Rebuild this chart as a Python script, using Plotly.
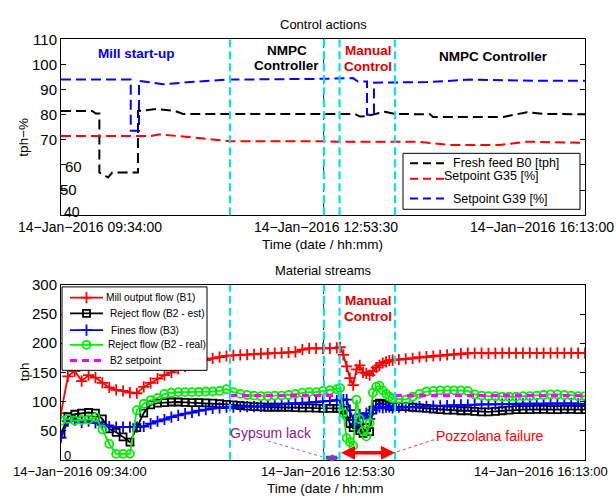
import numpy as np
import plotly.graph_objects as go

W, H = 616, 497
FONT = "Liberation Sans, Arial, sans-serif"

# ---------------- Top panel data (minutes after 09:34:00) ----------------
b0_t = [0, 23.6, 26.6, 29.2, 29.2, 35.8, 39, 58.6, 58.6, 73.1, 86.8, 92.9, 223.9, 227.7, 233,
        246.7, 254.3, 281, 283.3, 336.6, 354.8, 368.5, 399]
b0_v = [81.5, 81.5, 80.5, 80.5, 57, 55, 57, 57, 81.5, 82.3, 81.5, 80.3, 80.3, 79.3, 79.5,
        81.2, 80.3, 80.2, 79.1, 79.1, 81, 80.3, 80.2]
g35_t = [0, 67.8, 75.4, 86.8, 118.8, 128.7, 197.2, 212.4, 273.4, 296.2, 334.3, 354.8, 399]
g35_v = [71.5, 71.5, 72.2, 71.6, 70, 69.5, 69.5, 69.3, 69.2, 68, 68, 69.3, 68.8]
g39_t = [0, 53.1, 53.1, 59.4, 59.4, 77.7, 98.2, 126.4, 197.2, 212.4, 222.3, 226.1, 233, 233,
         238.3, 238.3, 278.7, 311.4, 364.7, 399]
g39_v = [94, 94, 73.6, 73.6, 93.5, 92.2, 93, 94, 94.3, 94.6, 94.6, 93.2, 93.2, 80, 80, 92.8,
         93, 94, 93.5, 93.5]
top_names = ["Fresh feed B0 [tph]", "Setpoint G35 [%]", "Setpoint G39 [%]"]

# ---------------- Bottom panel data ----------------
# sampling instants (minutes): regular, denser during manual control
t_s = np.concatenate([np.arange(0, 210.01, 5.25),
                      np.arange(212.5, 252.51, 2.5),
                      np.arange(257.25, 399.01, 5.25)])

b1 = [80, 143, 152, 135, 145, 141, 132, 124, 120, 118, 115, 114, 125, 132, 139, 145, 150, 156,
      160, 164, 168, 171, 174, 176, 178, 179, 180, 180.5, 181, 182, 182, 183, 183.5, 184, 185,
      189, 191, 191, 191, 191, 192,
      193, 180, 160, 140, 128, 155, 162, 150, 148, 145, 152, 158, 162, 166, 168, 170, 171,
      172, 173, 174, 176, 177, 178, 179, 180, 181, 182, 183, 183, 183, 182.5, 183, 183, 183.5,
      183, 183, 183.5, 183, 183, 183, 183.5, 183, 183, 183, 183]
b2_est = [44, 74, 78, 80, 81, 80, 70, 53, 47, 39, 30, 55, 80, 94, 97, 98, 99, 99, 98.5, 98,
          98, 97.5, 97, 96, 95, 94, 93, 92, 91, 90.5, 90, 90, 90, 90, 89.5, 89, 89, 88.5, 88,
          88, 88,
          88, 85, 78, 62, 55, 60, 50, 45, 55, 48, 85, 95, 97, 96, 94, 92, 91,
          91, 91, 90, 89, 88, 87, 86, 85, 85, 84, 84, 83, 82, 82, 83, 84, 85, 86, 86, 86,
          86.5, 86.5, 86, 86, 86.5, 86.5, 86, 86]
b3 = [38, 66, 68, 64, 66, 63, 60, 57, 56, 56, 56, 56, 57, 62, 66, 69, 73, 76, 79, 81, 84, 86,
      88, 89, 90, 90, 91, 91, 91, 91.5, 93, 94, 95, 96, 96.5, 97, 98, 99, 100, 101, 102,
      103, 103, 103, 85, 68, 60, 78, 72, 80, 70, 85, 88, 90, 89, 90, 90, 89,
      90, 90, 90.5, 91, 91.5, 92, 92.5, 93, 93.5, 94, 94, 94.5, 95, 95, 95, 95.5, 95.5, 96,
      96, 96, 96, 96, 96.5, 96.5, 96.5, 96.5, 96, 95]
b2_real = [67, 70, 67, 68, 69, 73, 52, 27, 10, 10, 10, 85, 96, 102, 106, 113, 115, 116, 116,
           116, 116.5, 117, 117, 118, 121, 116, 113, 111, 110, 109, 109, 110, 110, 111, 113,
           115, 116, 116, 118, 119, 121,
           123, 80, 37, 30, 24, 103, 70, 49, 40, 63, 115, 125, 127, 119, 113, 108, 105,
           104, 103, 108, 113, 117, 118, 119, 119, 119, 119, 118, 112, 110, 109, 109, 108,
           108, 108, 109, 109, 110, 111, 112, 112, 111, 110, 109, 109]
sp_t = [128.7, 212.1, None, 254.3, 399]
sp_v = [110, 110, None, 110, 110]
bot_names = ["Mill output flow (B1)", "Reject flow (B2 - est)", "Fines flow (B3)",
             "Reject flow (B2 - real)", "B2 setpoint"]

# phase boundaries (minutes)
cyan_t = [128.7, 200.3, 212.1, 254.3]
gypsum_span = [200.3, 211.7]
pozz_span = [212.1, 254.3]
xtick_vals = [0, 199.5, 399]
xtick_text = ["14\u2212Jan\u22122016 09:34:00", "14\u2212Jan\u22122016 12:53:30",
              "14\u2212Jan\u22122016 16:13:00"]

RED, BLUE, GREEN, MAG, CYAN = "#ff0000", "#0000ff", "#00ee00", "#ff00ff", "#00e5ee"
DASH = "10px,5px"


def px(x):
    return x / W


def py(y):
    return 1 - y / H


fig = go.Figure()

# top traces
for tt, vv, col in ((b0_t, b0_v, "black"), (g35_t, g35_v, RED), (g39_t, g39_v, BLUE)):
    fig.add_trace(go.Scatter(x=tt, y=vv, mode="lines", showlegend=False,
                             line=dict(color=col, width=2, dash=DASH), xaxis="x", yaxis="y"))

# bottom traces
bot_styles = [
    (b1, "#ff0000", "cross-thin", 8),
    (b2_est, "black", "square-open", 7),
    (b3, "#0000ff", "cross-thin", 8),
    (b2_real, GREEN, "circle-open", 8),
]
for vals, col, sym, sz in bot_styles:
    fig.add_trace(go.Scatter(x=t_s, y=vals, mode="lines+markers", showlegend=False,
                             line=dict(color=col, width=1.8),
                             marker=dict(symbol=sym, size=sz, color=col,
                                         line=dict(color=col, width=1.8)),
                             xaxis="x2", yaxis="y2"))
fig.add_trace(go.Scatter(x=sp_t, y=sp_v, mode="lines", showlegend=False,
                         line=dict(color=MAG, width=3, dash="7px,5px"), connectgaps=False,
                         xaxis="x2", yaxis="y2"))

# ---------------- legends (drawn on a pixel overlay axis) ----------------
ann = []


def text(x, y, s, size=13, color="black", bold=False, xanchor="center", angle=0):
    ann.append(dict(x=px(x), y=py(y), xref="paper", yref="paper", text=s, showarrow=False,
                    xanchor=xanchor, yanchor="middle", textangle=angle,
                    font=dict(family=FONT, size=size, color=color,
                              weight="bold" if bold else "normal")))


def box(x0, y0, x1, y1):
    fig.add_trace(go.Scatter(x=[x0, x1, x1, x0, x0], y=[y0, y0, y1, y1, y0], mode="lines",
                             fill="toself", fillcolor="white",
                             line=dict(color="black", width=1), showlegend=False,
                             hoverinfo="skip", xaxis="x3", yaxis="y3"))


box(403, 147, 580, 204)
top_key = [(157, 451, "black", 157), (173, 442, RED, 170), (193, 451, BLUE, 193)]
for (ly, tx, col, ty), name in zip(top_key, top_names):
    fig.add_trace(go.Scatter(x=[410, 446], y=[ly, ly], mode="lines", showlegend=False,
                             line=dict(color=col, width=2, dash="8px,5px"),
                             hoverinfo="skip", xaxis="x3", yaxis="y3"))
    text(tx, ty, name, 12.5, xanchor="left")

box(62, 283, 207, 368)
bot_key = [(294, 104, RED, "cross-thin", 8), (310, 108, "black", "square-open", 7),
           (327, 109, BLUE, "cross-thin", 8), (342, 106, GREEN, "circle-open", 8)]
for (ly, tx, col, sym, sz), name in zip(bot_key, bot_names[:4]):
    fig.add_trace(go.Scatter(x=[70, 103], y=[ly, ly], mode="lines", showlegend=False,
                             line=dict(color=col, width=1.8), hoverinfo="skip",
                             xaxis="x3", yaxis="y3"))
    fig.add_trace(go.Scatter(x=[86.5], y=[ly], mode="markers", showlegend=False,
                             marker=dict(symbol=sym, size=sz, color=col,
                                         line=dict(color=col, width=1.8)),
                             hoverinfo="skip", xaxis="x3", yaxis="y3"))
    text(tx, ly, name, 10.2, xanchor="left")
fig.add_trace(go.Scatter(x=[70, 103], y=[358, 358], mode="lines", showlegend=False,
                         line=dict(color=MAG, width=3, dash="7px,5px"), hoverinfo="skip",
                         xaxis="x3", yaxis="y3"))
text(108, 358, bot_names[4], 10.2, xanchor="left")

# ---------------- axes ----------------
axis_common = dict(showline=True, linecolor="black", linewidth=1, mirror="ticks",
                   ticks="inside", ticklen=5, tickcolor="black", zeroline=False)
xdom = [px(61), px(585)]
xaxis_common = dict(axis_common, range=[0, 399], tickvals=xtick_vals, showticklabels=False,
                    showgrid=True, gridcolor="#333333", griddash="dash", gridwidth=1)

shapes = []
for xr, yr in (("x", "y domain"), ("x2", "y2 domain")):
    for t in cyan_t:
        shapes.append(dict(type="line", xref=xr, yref=yr, x0=t, x1=t, y0=0, y1=1,
                           line=dict(color=CYAN, width=2.2, dash="8px,4px"),
                           layer="above"))
# thin callout lines
shapes.append(dict(type="line", xref="paper", yref="paper", x0=px(268), y0=py(440),
                   x1=px(322), y1=py(456), line=dict(color="#8a2be2", width=0.8, dash="dot")))
shapes.append(dict(type="line", xref="paper", yref="paper", x0=px(397), y0=py(451),
                   x1=px(436), y1=py(438), line=dict(color=RED, width=0.8, dash="dot")))
# gypsum-lack bar
shapes.append(dict(type="line", xref="x2", yref="paper", x0=gypsum_span[0] + 1.5,
                   y0=py(457), x1=gypsum_span[1] - 1.5, y1=py(457),
                   line=dict(color="#3a4fa8", width=4), layer="above"))

text(323, 16, "Control actions", 13)
text(323, 266, "Material streams", 13)
text(322, 240, "Time (date / hh:mm)", 13.5)
text(325, 488, "Time (date / hh:mm", 13.5)
text(24, 131, "tph\u2212%", 13.5, angle=-90)
text(24, 370, "tph", 13.5, angle=-90)
# x tick labels
xt_pos_top = [90, 326, 542]
xt_pos_bot = [80, 328, 541]
for i in range(3):
    text(xt_pos_top[i], 222, xtick_text[i], 14)
    text(xt_pos_bot[i], 471, xtick_text[i], 13)
# odd y tick labels
text(73, 160, "60", 15)
text(68, 184, "50", 15)
text(72, 207, "40", 14)
text(67, 455, "0", 13)
# phase labels
text(136, 45, "Mill start-up", 13.5, BLUE, True)
text(287, 42, "NMPC", 13.5, "black", True)
text(286, 58, "Controller", 13.5, "black", True)
text(368, 42, "Manual", 13.5, "#e00000", True)
text(368, 59, "Control", 13.5, "#e00000", True)
text(493, 48, "NMPC Controller", 13.5, "black", True)
text(368, 297, "Manual", 13.5, "#e00000", True)
text(368, 313, "Control", 13.5, "#e00000", True)
text(271, 432, "Gypsum lack", 14, "#8b1a8b")
text(490, 435, "Pozzolana failure", 14, RED)

# double arrows
for (span, yv, col, sz, wd) in ((pozz_span, 12, RED, 0.8, 3.5),
                                (gypsum_span, 3, "#7a3fc0", 0.7, 2)):
    ann.append(dict(x=span[1], y=yv, ax=span[0], ay=yv, xref="x2", yref="y2", axref="x2",
                    ayref="y2", text="", showarrow=True, arrowhead=2, arrowside="end+start",
                    arrowsize=sz, arrowwidth=wd, arrowcolor=col))

fig.update_layout(
    width=W, height=H, margin=dict(l=0, r=0, t=0, b=0),
    paper_bgcolor="white", plot_bgcolor="rgba(0,0,0,0)",
    font=dict(family=FONT, size=13, color="black"),
    xaxis=dict(xaxis_common, domain=xdom, anchor="y"),
    yaxis=dict(axis_common, domain=[py(210), py(31)], range=[40, 110],
               tickvals=[40, 50, 60, 70, 80, 90, 100, 110],
               ticktext=["", "", "", "70", "80", "90", "100", "110"],
               tickfont=dict(size=15), showgrid=False, anchor="x"),
    xaxis2=dict(xaxis_common, domain=xdom, anchor="y2"),
    yaxis2=dict(axis_common, domain=[py(459), py(281)], range=[0, 300],
                tickvals=[0, 50, 100, 150, 200, 250, 300],
                ticktext=["", "50", "100", "150", "200", "250", "300"],
                tickfont=dict(size=15), showgrid=False, anchor="x2"),
    xaxis3=dict(domain=[0, 1], range=[0, W], visible=False, anchor="y3", fixedrange=True),
    yaxis3=dict(domain=[0, 1], range=[H, 0], visible=False, anchor="x3", fixedrange=True),
    shapes=shapes, annotations=ann, showlegend=False,
)

fig.write_html("out.html")
